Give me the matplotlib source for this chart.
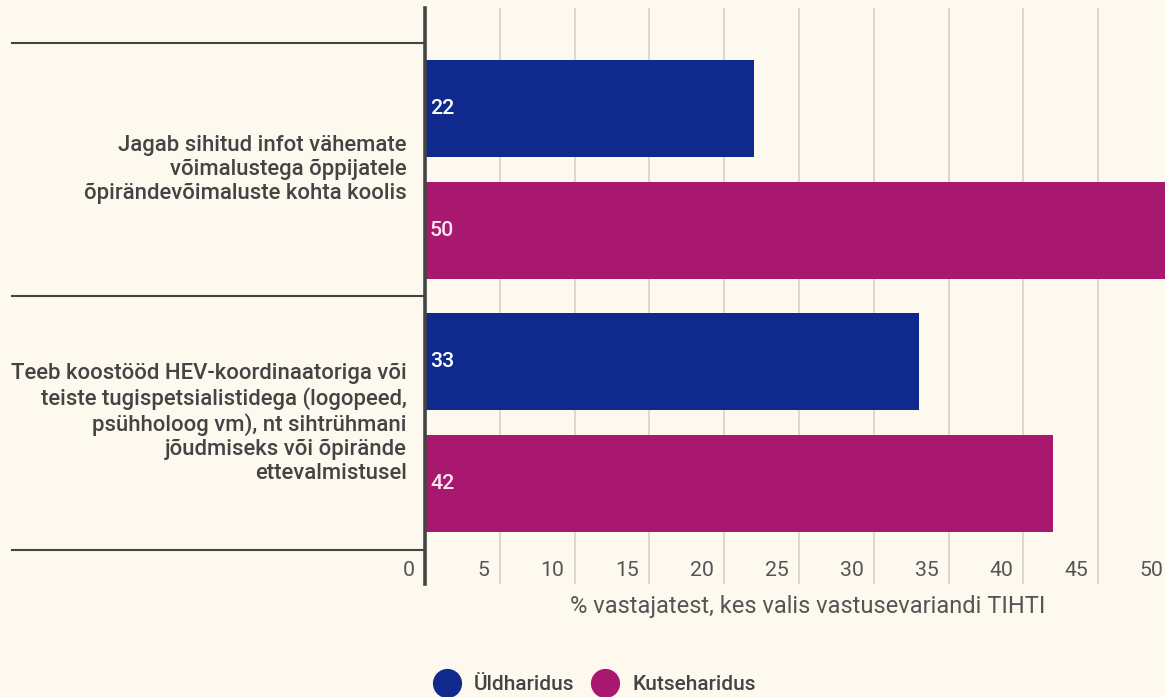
import matplotlib.pyplot as plt
from matplotlib.lines import Line2D
import matplotlib.transforms as mtrans

plt.rcParams['font.family'] = ['Roboto', 'DejaVu Sans']

categories = [
    'Jagab sihitud infot vähemate\nvõimalustega õppijatele\nõpirändevõimaluste kohta koolis',
    'Teeb koostööd HEV-koordinaatoriga või\nteiste tugispetsialistidega (logopeed,\npsühholoog vm), nt sihtrühmani\njõudmiseks või õpirände\nettevalmistusel',
]
series_names = ['Üldharidus', 'Kutseharidus']
uldharidus = [22, 33]
kutseharidus = [50, 42]
xticks = [0, 5, 10, 15, 20, 25, 30, 35, 40, 45, 50]
xlabel = '% vastajatest, kes valis vastusevariandi TIHTI'

bg = '#fdf9ee'
blue = '#0f2a8c'
magenta = '#a8186e'
txt = '#444444'

W, H = 1165, 697
fig = plt.figure(figsize=(W / 100, H / 100), dpi=100, facecolor=bg)
# axes runs a little past the right edge, like the original
ax = fig.add_axes([425 / W, 1 - 584 / H, 748 / W, 576 / H])
ax.set_facecolor(bg)

bar_h = 0.383
for i in range(len(categories)):
    ax.barh(i + 0.258, uldharidus[i], height=bar_h, color=blue, zorder=3)
    ax.barh(i + 0.738, kutseharidus[i], height=bar_h, color=magenta, zorder=3)
    ax.text(0.33, i + 0.258, str(uldharidus[i]), color='white', fontsize=15.3,
            weight='medium', ha='left', va='center', zorder=4)
    ax.text(0.33, i + 0.738, str(kutseharidus[i]), color='#fde8f3', fontsize=15.3,
            weight='medium', ha='left', va='center', zorder=4)

ax.set_xlim(0, 50)
ax.set_ylim(-0.138 + 576 / 253.5, -0.138)

ax.set_xticks(xticks)
ax.tick_params(axis='both', length=0, labelbottom=False, labelleft=False)
ax.set_yticks([])
ax.grid(axis='x', color='#d6d2c8', lw=1.2, zorder=0)
for s in ['top', 'right', 'bottom']:
    ax.spines[s].set_visible(False)
ax.spines['left'].set_color('#444444')
ax.spines['left'].set_linewidth(2.6)
ax.spines['left'].set_zorder(5)

# tick labels sit inside the plot, left of each gridline
trans = mtrans.blended_transform_factory(ax.transData, ax.transAxes)
off = mtrans.ScaledTranslation(-10 / 100, 0, fig.dpi_scale_trans)
for v in xticks:
    ax.text(v, 13 / 576, str(v), transform=trans + off, ha='right', va='center',
            fontsize=15.3, color='#555555')

# category separators and labels
ytrans = mtrans.blended_transform_factory(ax.transAxes, ax.transData)
for b in range(len(categories) + 1):
    ax.plot([-413 / 748, 0], [b, b], transform=ytrans, color='#444444', lw=1.5,
            clip_on=False, zorder=5)
for i, lab in enumerate(categories):
    ax.text(-18 / 748, i + 0.5, lab, transform=ytrans, ha='right', va='center',
            multialignment='right', fontsize=15.9, weight='medium', color=txt,
            linespacing=1.18)

fig.text(808 / W, 1 - 607 / H, xlabel, ha='center', va='center', fontsize=17,
         color='#555555')

handles = [Line2D([], [], marker='o', ls='', markersize=20, color=c)
           for c in [blue, magenta]]
fig.legend(handles, series_names, loc='center', bbox_to_anchor=(593 / W, 1 - 685 / H),
           ncol=2, frameon=False, handletextpad=0.5, columnspacing=0.7,
           handlelength=1.6, prop={'size': 15, 'weight': 'medium'}, labelcolor=txt)

fig.savefig('out.png', dpi=100, facecolor=bg)
